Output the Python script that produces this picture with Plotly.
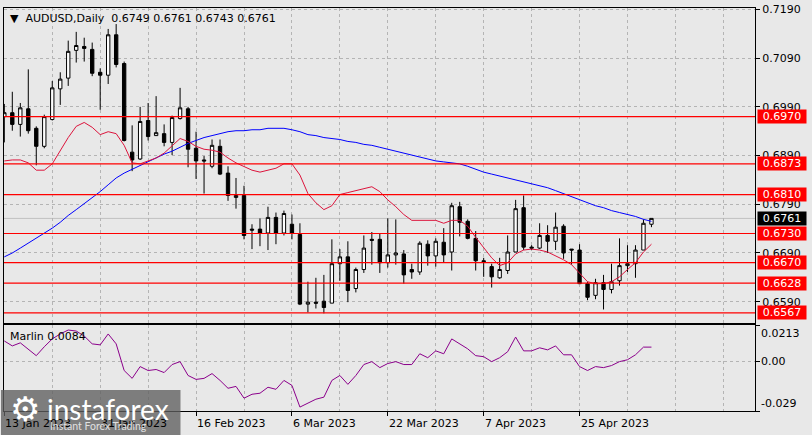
import plotly.graph_objects as go

# ---------------- data ----------------
opens = [0.6970,0.6978,0.6954,0.6986,0.6946,0.6909,0.6964,0.7027,0.7049,0.7106,
         0.7114,0.7108,0.7061,0.7055,0.7138,0.7079,0.6897,0.6883,0.6962,0.6931,
         0.6935,0.6917,0.6966,0.6986,0.6905,0.6881,0.6868,0.6909,0.6854,0.6804,
         0.6808,0.6739,0.6739,0.6731,0.6763,0.6731,0.6749,0.6728,0.6585,0.6589,
         0.6591,0.6587,0.6668,0.6682,0.6617,0.6656,0.6718,0.6718,0.6670,0.6686,
         0.6688,0.6656,0.6651,0.6708,0.6684,0.6712,0.6692,0.6785,0.6755,0.6720,
         0.6674,0.6662,0.6639,0.6654,0.6692,0.6783,0.6702,0.6700,0.6726,0.6714,
         0.6745,0.6698,0.6696,0.6627,0.6603,0.6629,0.6615,0.6633,0.6664,0.6668,
         0.6696,0.6749]
highs = [0.6996,0.7021,0.6998,0.7067,0.6950,0.6974,0.7043,0.7061,0.7126,0.7144,
         0.7132,0.7122,0.7069,0.7150,0.7160,0.7083,0.6952,0.6990,0.6998,0.7012,
         0.6954,0.6972,0.7029,0.6990,0.6939,0.6889,0.6923,0.6923,0.6868,0.6844,
         0.6828,0.6749,0.6761,0.6785,0.6773,0.6777,0.6769,0.6751,0.6631,0.6639,
         0.6645,0.6718,0.6698,0.6714,0.6660,0.6726,0.6733,0.6731,0.6761,0.6759,
         0.6696,0.6668,0.6714,0.6716,0.6720,0.6741,0.6793,0.6795,0.6759,0.6735,
         0.6680,0.6668,0.6680,0.6726,0.6799,0.6808,0.6706,0.6751,0.6747,0.6773,
         0.6749,0.6698,0.6708,0.6631,0.6637,0.6645,0.6668,0.6720,0.6706,0.6706,
         0.6759,0.6761]
lows = [0.6917,0.6941,0.6929,0.6935,0.6870,0.6905,0.6962,0.6994,0.7033,0.7081,
        0.7083,0.7053,0.6984,0.7037,0.7071,0.6919,0.6858,0.6881,0.6921,0.6931,
        0.6909,0.6891,0.6964,0.6866,0.6842,0.6812,0.6864,0.6850,0.6797,0.6781,
        0.6718,0.6698,0.6704,0.6696,0.6708,0.6726,0.6718,0.6583,0.6568,0.6576,
        0.6566,0.6587,0.6633,0.6589,0.6609,0.6649,0.6666,0.6649,0.6660,0.6666,
        0.6627,0.6637,0.6645,0.6664,0.6662,0.6670,0.6654,0.6724,0.6718,0.6654,
        0.6641,0.6619,0.6637,0.6647,0.6692,0.6696,0.6696,0.6698,0.6690,0.6696,
        0.6678,0.6666,0.6627,0.6593,0.6595,0.6574,0.6607,0.6623,0.6651,0.6639,
        0.6696,0.6743]
closes = [0.6978,0.6954,0.6988,0.6941,0.6909,0.6970,0.7029,0.7047,0.7104,0.7116,
          0.7110,0.7059,0.7055,0.7138,0.7077,0.6921,0.6881,0.6960,0.6929,0.6937,
          0.6917,0.6968,0.6988,0.6903,0.6879,0.6879,0.6911,0.6852,0.6808,0.6808,
          0.6726,0.6737,0.6731,0.6763,0.6731,0.6771,0.6731,0.6585,0.6589,0.6587,
          0.6578,0.6668,0.6682,0.6613,0.6656,0.6700,0.6716,0.6670,0.6686,0.6690,
          0.6645,0.6651,0.6710,0.6684,0.6714,0.6686,0.6787,0.6753,0.6720,0.6674,
          0.6672,0.6641,0.6656,0.6692,0.6781,0.6702,0.6700,0.6726,0.6714,0.6743,
          0.6690,0.6696,0.6627,0.6599,0.6629,0.6615,0.6631,0.6664,0.6668,0.6696,
          0.6751,0.6761]
ma_fast = [0.6879,0.6881,0.6881,0.6875,0.6860,0.6860,0.6873,0.6901,0.6927,0.6950,
           0.6958,0.6948,0.6933,0.6939,0.6935,0.6911,0.6875,0.6873,0.6879,0.6885,
           0.6895,0.6911,0.6925,0.6919,0.6909,0.6903,0.6901,0.6897,0.6885,0.6875,
           0.6868,0.6860,0.6856,0.6860,0.6864,0.6873,0.6873,0.6850,0.6812,0.6793,
           0.6779,0.6787,0.6810,0.6814,0.6818,0.6822,0.6826,0.6816,0.6799,0.6785,
           0.6769,0.6757,0.6757,0.6757,0.6757,0.6751,0.6757,0.6757,0.6745,0.6722,
           0.6702,0.6680,0.6664,0.6670,0.6688,0.6696,0.6698,0.6696,0.6692,0.6684,
           0.6676,0.6666,0.6649,0.6631,0.6627,0.6627,0.6631,0.6641,0.6656,0.6670,
           0.6692,0.6708]
ma_slow = [0.6682,0.6690,0.6700,0.6710,0.6720,0.6731,0.6741,0.6753,0.6767,0.6779,
           0.6791,0.6804,0.6816,0.6830,0.6844,0.6854,0.6862,0.6870,0.6877,0.6885,
           0.6893,0.6899,0.6907,0.6915,0.6921,0.6927,0.6931,0.6935,0.6939,0.6941,
           0.6941,0.6943,0.6943,0.6946,0.6946,0.6946,0.6943,0.6939,0.6933,0.6931,
           0.6927,0.6925,0.6923,0.6919,0.6917,0.6913,0.6911,0.6907,0.6903,0.6899,
           0.6895,0.6891,0.6887,0.6883,0.6879,0.6877,0.6875,0.6873,0.6868,0.6862,
           0.6856,0.6852,0.6848,0.6844,0.6840,0.6836,0.6832,0.6828,0.6824,0.6818,
           0.6812,0.6806,0.6799,0.6793,0.6787,0.6783,0.6777,0.6773,0.6769,0.6765,
           0.6759,0.6755]
marlin = [0.0120,0.0091,0.0109,0.0074,0.0034,0.0086,0.0132,0.0161,0.0184,0.0178,
          0.0149,0.0103,0.0097,0.0161,0.0103,-0.0053,-0.0099,-0.0030,-0.0053,-0.0047,
          -0.0065,-0.0018,-0.0001,-0.0082,-0.0105,-0.0099,-0.0071,-0.0111,-0.0157,-0.0146,
          -0.0215,-0.0192,-0.0186,-0.0151,-0.0163,-0.0111,-0.0140,-0.0267,-0.0244,-0.0221,
          -0.0209,-0.0111,-0.0082,-0.0134,-0.0082,-0.0018,-0.0001,-0.0036,-0.0012,-0.0001,
          -0.0018,-0.0018,0.0045,0.0022,0.0062,0.0045,0.0132,0.0103,0.0074,0.0034,
          0.0028,-0.0001,0.0022,0.0057,0.0143,0.0062,0.0062,0.0080,0.0068,0.0091,
          0.0039,0.0039,-0.0030,-0.0053,-0.0030,-0.0036,-0.0024,-0.0001,0.0010,0.0039,
          0.0084,0.0084]
levels = [0.6970, 0.6873, 0.6810, 0.6730, 0.6670, 0.6628, 0.6567]
last_price = 0.6761
price_ticks = [0.7190, 0.7090, 0.6990, 0.6890, 0.6790, 0.6690, 0.6590]
ind_labels = ["0.0213", "0.00", "-0.029"]
ind_label_pos = [0.0161, 0.0, -0.0244]
date_tick_idx = [0, 12, 24, 36, 48, 60, 72]
date_tick_labels = ["13 Jan 2023", "31 Jan 2023", "16 Feb 2023", "6 Mar 2023",
                    "22 Mar 2023", "7 Apr 2023", "25 Apr 2023"]

idx = list(range(len(opens)))
FONT = "DejaVu Sans"
BG = "#e8e8e8"
GRID = "#b4b4b4"

fig = go.Figure()
fig.add_trace(go.Candlestick(
    x=idx, open=opens, high=highs, low=lows, close=closes,
    increasing=dict(line=dict(color="black", width=1), fillcolor="white"),
    decreasing=dict(line=dict(color="black", width=1), fillcolor="black"),
    whiskerwidth=0, xaxis="x", yaxis="y", showlegend=False, hoverinfo="skip"))
fig.add_trace(go.Scatter(x=idx, y=ma_slow, mode="lines", line=dict(color="#0000ff", width=1),
                         xaxis="x", yaxis="y", showlegend=False, hoverinfo="skip"))
fig.add_trace(go.Scatter(x=idx, y=ma_fast, mode="lines", line=dict(color="#dc143c", width=1),
                         xaxis="x", yaxis="y", showlegend=False, hoverinfo="skip"))
fig.add_trace(go.Scatter(x=idx, y=marlin, mode="lines", line=dict(color="#8b008b", width=1),
                         xaxis="x2", yaxis="y2", showlegend=False, hoverinfo="skip"))

shapes = []
shapes.append(dict(type="line", xref="x domain", yref="y", x0=0, x1=1, y0=last_price, y1=last_price,
                   line=dict(color="#c0c0c0", width=1), layer="below"))
for lv in levels:
    shapes.append(dict(type="line", xref="x domain", yref="y", x0=0, x1=1, y0=lv, y1=lv,
                       line=dict(color="#ff0000", width=1.2), layer="above"))
# watermark box
shapes.append(dict(type="rect", xref="paper", yref="paper", x0=-0.004, x1=0.235, y0=-0.06, y1=0.052,
                   fillcolor="rgba(95,95,95,0.78)", line=dict(width=0), layer="above"))

ann = []
ann.append(dict(xref="paper", yref="paper", x=0, y=1, xanchor="left", yanchor="top", xshift=4, yshift=-2,
                text="▼\u00a0 AUDUSD,Daily\u00a0\u00a00.6749 0.6761 0.6743 0.6761", showarrow=False,
                font=dict(family=FONT, size=11, color="black")))
for lv in levels:
    ann.append(dict(xref="paper", yref="y", x=1, y=lv, xanchor="left", yanchor="middle", xshift=2,
                    text=f"{lv:.4f}", showarrow=False, bgcolor="#ff0000", width=48, height=13,
                    borderpad=0, font=dict(family=FONT, size=11, color="white")))
ann.append(dict(xref="paper", yref="y", x=1, y=last_price, xanchor="left", yanchor="middle", xshift=2,
                text=f"{last_price:.4f}", showarrow=False, bgcolor="black", width=48, height=13,
                borderpad=0, font=dict(family=FONT, size=11, color="white")))
for t, v in zip(ind_labels, ind_label_pos):
    ann.append(dict(xref="paper", yref="y2", x=1, y=v, xanchor="left", yanchor="middle", xshift=4,
                    text=t, showarrow=False, font=dict(family=FONT, size=11, color="black")))
ann.append(dict(xref="paper", yref="y2 domain", x=0, y=1, xanchor="left", yanchor="top", xshift=4, yshift=-3,
                text=f"Marlin {marlin[-1]:.4f}", showarrow=False, font=dict(family=FONT, size=11, color="black")))
for i, lab in zip(date_tick_idx, date_tick_labels):
    ann.append(dict(xref="x2", yref="paper", x=i, y=0, xanchor="left", yanchor="top", xshift=-1, yshift=-4,
                    text=lab, showarrow=False, font=dict(family=FONT, size=11, color="black")))
# watermark text
ann.append(dict(xref="paper", yref="paper", x=0, y=0, xanchor="center", yanchor="middle", xshift=21, yshift=2,
                text="⚙", showarrow=False, font=dict(family=FONT, size=34, color="white")))
ann.append(dict(xref="paper", yref="paper", x=0, y=0, xanchor="left", yanchor="middle", xshift=41, yshift=2,
                text="instaforex", showarrow=False, font=dict(family="Lato", size=28, color="white")))
ann.append(dict(xref="paper", yref="paper", x=0, y=0, xanchor="left", yanchor="middle", xshift=44, yshift=-15,
                text="Instant Forex Trading", showarrow=False, font=dict(family="Lato", size=10.5, color="#e0e0e0")))

axis_common = dict(showline=True, mirror=True, linecolor="black", linewidth=1, zeroline=False,
                   gridcolor=GRID, griddash="3px,3px", gridwidth=1)

fig.update_layout(
    width=812, height=435,
    margin=dict(l=3, r=57, t=3, b=24),
    paper_bgcolor=BG, plot_bgcolor=BG,
    boxgap=0.4,
    hovermode=False,
    font=dict(family=FONT, size=11, color="black"),
    xaxis=dict(domain=[0, 1], anchor="y", range=[-0.04, 93.96], tickmode="linear", tick0=0, dtick=6,
               showticklabels=False, ticks="", showgrid=True, rangeslider=dict(visible=False),
               **axis_common),
    xaxis2=dict(domain=[0, 1], anchor="y2", matches="x", range=[-0.04, 93.96],
                tickmode="array", tickvals=date_tick_idx, ticktext=[""] * len(date_tick_idx),
                ticks="outside", ticklen=4, tickcolor="black", showgrid=True,
                minor=dict(tickmode="linear", tick0=0, dtick=6, showgrid=True, gridcolor=GRID,
                           griddash="3px,3px", ticks=""),
                **axis_common),
    yaxis=dict(domain=[0.2181, 1], anchor="x", side="right", range=[0.6546, 0.7193],
               tickmode="array", tickvals=price_ticks, ticktext=[f"{v:.4f}" for v in price_ticks],
               ticks="outside", ticklen=4, tickcolor="black", showgrid=True, ticklabeloverflow="allow",
               tickfont=dict(family=FONT, size=11, color="black"), **axis_common),
    yaxis2=dict(domain=[0, 0.2132], anchor="x2", side="right", range=[-0.029, 0.0213],
                tickmode="array", tickvals=[0.0213, 0.0, -0.029], ticktext=["", "", ""],
                ticks="outside", ticklen=4, tickcolor="black", showgrid=True, **axis_common),
    shapes=shapes, annotations=ann,
)

fig.write_html("out.html", config={"displayModeBar": False},
               post_script="document.body.style.margin='0px';")
